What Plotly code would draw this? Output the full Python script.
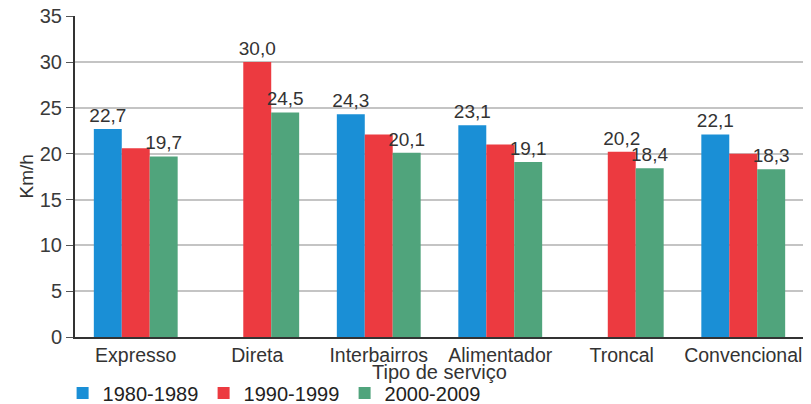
import plotly.graph_objects as go

categories = ["Expresso", "Direta", "Interbairros", "Alimentador", "Troncal", "Convencional"]
series_names = ["1980-1989", "1990-1999", "2000-2009"]
v1980 = [22.7, None, 24.3, 23.1, None, 22.1]
v1990 = [20.6, 30.0, 22.1, 21.0, 20.2, 20.0]
v2000 = [19.7, 24.5, 20.1, 19.1, 18.4, 18.3]
label1980 = ["22,7", "", "24,3", "23,1", "", "22,1"]
label1990 = ["", "30,0", "", "", "20,2", ""]
label2000 = ["19,7", "24,5", "20,1", "19,1", "18,4", "18,3"]
y_ticks = [0, 5, 10, 15, 20, 25, 30, 35]
colors = ["#1a8fd6", "#ec3a40", "#50a47c"]

fig = go.Figure()
for name, vals, labs, col in zip(series_names, [v1980, v1990, v2000],
                                 [label1980, label1990, label2000], colors):
    fig.add_trace(go.Bar(
        x=categories, y=vals, name=name, marker=dict(color=col, line=dict(width=0)),
        text=labs, textposition="outside", cliponaxis=False, constraintext="none",
        textfont=dict(size=19, color="#333333"),
    ))

# page body adds 8px offset; figure is sized to fill the rest of the window
fig.update_layout(
    width=803, height=396,
    margin=dict(l=67, r=7, t=8, b=67, autoexpand=False),
    paper_bgcolor="white", plot_bgcolor="white",
    font=dict(family="Liberation Sans, Arial, sans-serif", color="#333333"),
    barmode="group", bargap=0.31, bargroupgap=0,
    showlegend=True,
    legend=dict(orientation="h", xref="container", x=0.068, xanchor="left",
                y=0.028, yref="container", yanchor="middle",
                font=dict(size=20, color="#222222"), bgcolor="rgba(0,0,0,0)",
                entrywidth=96, entrywidthmode="pixels", tracegroupgap=0),
    annotations=[
        dict(text="Km/h", xref="paper", yref="paper", x=0, y=0.5, xshift=-49,
             xanchor="center", yanchor="middle", textangle=-90, showarrow=False,
             font=dict(size=19, color="#333333")),
        dict(text="Tipo de serviço", xref="paper", yref="paper", x=0.5, y=0, yshift=-35,
             xanchor="center", yanchor="middle", showarrow=False,
             font=dict(size=20, color="#333333")),
    ],
)
fig.update_xaxes(
    showline=True, linecolor="#333333", linewidth=2, automargin=False,
    tickfont=dict(size=19.5, color="#333333"),
    ticks="",
)
fig.update_yaxes(
    range=[0, 35.02], tickvals=y_ticks, ticktext=[str(t) for t in y_ticks],
    showgrid=True, gridcolor="#c4c4c4", gridwidth=1.5, automargin=False,
    ticklabeloverflow="allow",
    showline=True, linecolor="#333333", linewidth=2,
    ticks="outside", ticklen=7, tickcolor="#555555",
    tickfont=dict(size=20, color="#3a3a3a"),
    zeroline=False,
)

fig.write_html("out.html")
